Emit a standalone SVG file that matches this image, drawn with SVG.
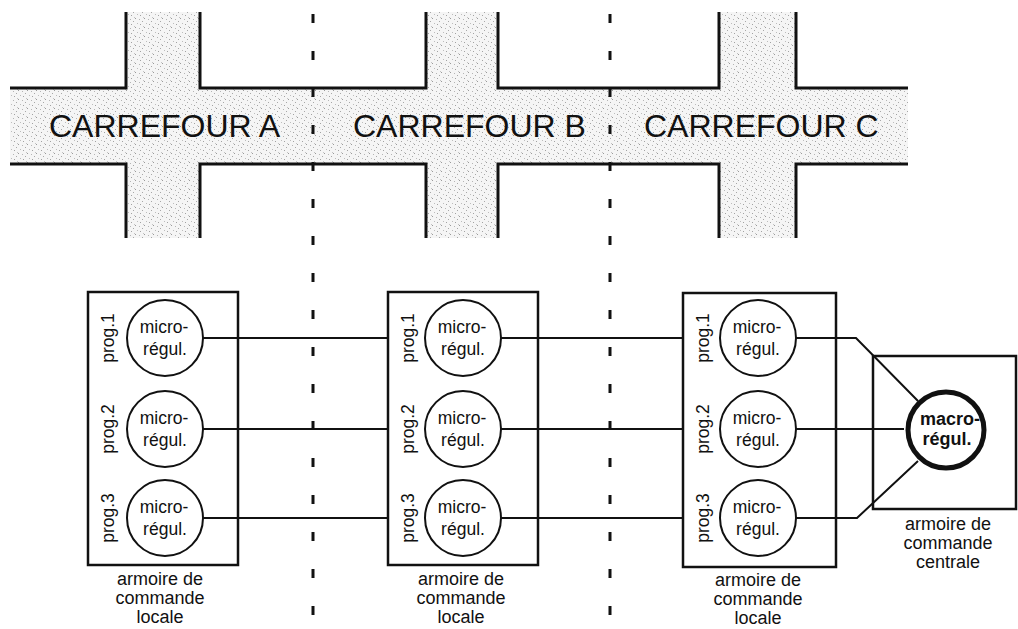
<svg xmlns="http://www.w3.org/2000/svg" width="1018" height="629" viewBox="0 0 1018 629">
  <defs>
    <pattern id="stipple" width="9" height="9" patternUnits="userSpaceOnUse">
      <rect width="9" height="9" fill="#f5f5f5"/>
      <rect x="0" y="0" width="1" height="1" fill="#9a9a9a"/>
      <rect x="4" y="1" width="1" height="1" fill="#b5b5b5"/>
      <rect x="7" y="3" width="1" height="1" fill="#a8a8a8"/>
      <rect x="2" y="5" width="1" height="1" fill="#bdbdbd"/>
      <rect x="5" y="6" width="1" height="1" fill="#a2a2a2"/>
      <rect x="8" y="8" width="1" height="1" fill="#c4c4c4"/>
    </pattern>
  </defs>
  <style>
    .edge{fill:none;stroke:#111;stroke-width:3;stroke-linejoin:miter}
    .dash{fill:none;stroke:#111;stroke-width:3;stroke-dasharray:9 28}
    .box{fill:none;stroke:#111;stroke-width:2.5}
    .micro{fill:#fff;stroke:#111;stroke-width:2}
    .macro{fill:#fff;stroke:#111;stroke-width:5}
    .link{fill:none;stroke:#111;stroke-width:2}
    .t{font-family:"Liberation Sans",Arial,Helvetica,sans-serif;fill:#111}
    .big{font-size:32px}
    .c{font-size:17.5px;text-anchor:middle}
    .p{font-size:17.5px;text-anchor:middle}
    .lab{font-size:18px;text-anchor:middle}
    .b{font-size:18px;font-weight:bold;text-anchor:middle}
  </style>

  <rect width="1018" height="629" fill="#fff"/>

  <!-- roads -->
  <g id="roads">
    <path d="M10,88 H126 V12 H200 V88 H426 V12 H498 V88 H719 V12 H796 V88 H908 V164 H796 V238 H719 V164 H498 V238 H426 V164 H200 V238 H126 V164 H10 Z" fill="url(#stipple)" stroke="none"/>
    <path class="edge" d="M10,88 H126 V12 M200,12 V88 H426 V12 M498,12 V88 H719 V12 M796,12 V88 H908"/>
    <path class="edge" d="M10,164 H126 V238 M200,238 V164 H426 V238 M498,238 V164 H719 V238 M796,238 V164 H908"/>
    <text class="t big" x="49" y="137">CARREFOUR A</text>
    <text class="t big" x="353" y="137">CARREFOUR B</text>
    <text class="t big" x="644" y="137">CARREFOUR C</text>
  </g>

  <!-- boundaries -->
  <g id="boundaries">
    <line class="dash" x1="313" y1="14" x2="313" y2="626"/>
    <line class="dash" x1="610" y1="14" x2="610" y2="626"/>
  </g>

  <!-- connectors -->
  <g id="connectors">
    <line class="link" x1="203" y1="338" x2="388" y2="338"/>
    <line class="link" x1="203" y1="429" x2="388" y2="429"/>
    <line class="link" x1="203" y1="518" x2="388" y2="518"/>
    <line class="link" x1="501" y1="338" x2="683" y2="338"/>
    <line class="link" x1="501" y1="429" x2="683" y2="429"/>
    <line class="link" x1="501" y1="518" x2="683" y2="518"/>
    <polyline class="link" points="796,338 856,338 918,401"/>
    <line class="link" x1="796" y1="429" x2="904" y2="429"/>
    <polyline class="link" points="796,518 857,518 918,461"/>
  </g>

  <!-- cabinet A -->
  <g id="cabinet-a">
    <rect class="box" x="88" y="292" width="150" height="273"/>
    <g id="a-prog1">
      <circle class="micro" cx="165" cy="338" r="38"/>
      <text class="t c" x="164" y="333">micro-</text>
      <text class="t c" x="165" y="355">régul.</text>
      <text class="t p" transform="translate(114,338) rotate(-90)">prog.1</text>
    </g>
    <g id="a-prog2">
      <circle class="micro" cx="165" cy="429" r="38"/>
      <text class="t c" x="164" y="424">micro-</text>
      <text class="t c" x="165" y="446">régul.</text>
      <text class="t p" transform="translate(114,429) rotate(-90)">prog.2</text>
    </g>
    <g id="a-prog3">
      <circle class="micro" cx="165" cy="518" r="38"/>
      <text class="t c" x="164" y="513">micro-</text>
      <text class="t c" x="165" y="535">régul.</text>
      <text class="t p" transform="translate(114,518) rotate(-90)">prog.3</text>
    </g>
    <text class="t lab" x="160" y="585">armoire de</text>
    <text class="t lab" x="160" y="604">commande</text>
    <text class="t lab" x="160" y="623">locale</text>
  </g>

  <!-- cabinet B -->
  <g id="cabinet-b">
    <rect class="box" x="388" y="292" width="150" height="273"/>
    <g id="b-prog1">
      <circle class="micro" cx="463" cy="338" r="38"/>
      <text class="t c" x="462" y="333">micro-</text>
      <text class="t c" x="463" y="355">régul.</text>
      <text class="t p" transform="translate(414,338) rotate(-90)">prog.1</text>
    </g>
    <g id="b-prog2">
      <circle class="micro" cx="463" cy="429" r="38"/>
      <text class="t c" x="462" y="424">micro-</text>
      <text class="t c" x="463" y="446">régul.</text>
      <text class="t p" transform="translate(414,429) rotate(-90)">prog.2</text>
    </g>
    <g id="b-prog3">
      <circle class="micro" cx="463" cy="518" r="38"/>
      <text class="t c" x="462" y="513">micro-</text>
      <text class="t c" x="463" y="535">régul.</text>
      <text class="t p" transform="translate(414,518) rotate(-90)">prog.3</text>
    </g>
    <text class="t lab" x="461" y="585">armoire de</text>
    <text class="t lab" x="461" y="604">commande</text>
    <text class="t lab" x="461" y="623">locale</text>
  </g>

  <!-- cabinet C -->
  <g id="cabinet-c">
    <rect class="box" x="683" y="293" width="153" height="274"/>
    <g id="c-prog1">
      <circle class="micro" cx="758" cy="338" r="38"/>
      <text class="t c" x="757" y="333">micro-</text>
      <text class="t c" x="758" y="355">régul.</text>
      <text class="t p" transform="translate(709,338) rotate(-90)">prog.1</text>
    </g>
    <g id="c-prog2">
      <circle class="micro" cx="758" cy="429" r="38"/>
      <text class="t c" x="757" y="424">micro-</text>
      <text class="t c" x="758" y="446">régul.</text>
      <text class="t p" transform="translate(709,429) rotate(-90)">prog.2</text>
    </g>
    <g id="c-prog3">
      <circle class="micro" cx="758" cy="518" r="38"/>
      <text class="t c" x="757" y="513">micro-</text>
      <text class="t c" x="758" y="535">régul.</text>
      <text class="t p" transform="translate(709,518) rotate(-90)">prog.3</text>
    </g>
    <text class="t lab" x="758" y="586">armoire de</text>
    <text class="t lab" x="758" y="605">commande</text>
    <text class="t lab" x="758" y="624">locale</text>
  </g>

  <!-- central cabinet -->
  <g id="cabinet-central">
    <rect class="box" x="873" y="356" width="143" height="153"/>
    <g id="macro">
      <circle class="macro" cx="946" cy="430" r="38"/>
      <text class="t b" x="950" y="425">macro-</text>
      <text class="t b" x="947" y="445">régul.</text>
    </g>
    <text class="t lab" x="948" y="530">armoire de</text>
    <text class="t lab" x="948" y="549">commande</text>
    <text class="t lab" x="948" y="568">centrale</text>
  </g>
</svg>
